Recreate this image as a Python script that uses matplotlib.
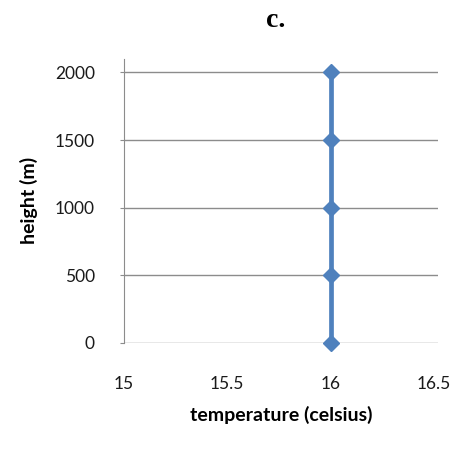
import matplotlib.pyplot as plt

temperature = [16, 16, 16, 16, 16]
height = [0, 500, 1000, 1500, 2000]
x_ticks = [15, 15.5, 16, 16.5]
y_ticks = [0, 500, 1000, 1500, 2000]

plt.rcParams['font.family'] = ['Lato', 'DejaVu Sans']

fig = plt.figure(figsize=(4.61, 4.5), dpi=100)
ax = fig.add_axes([0.269, 0.238, 0.681, 0.631])

grid_col = '#8c8c8c'
for y in y_ticks:
    ax.axhline(y, color=grid_col, lw=1.0, zorder=1)

ax.plot(temperature, height, color='#4f81bd', lw=3.4, marker='D',
        markersize=8, zorder=3, clip_on=False)

ax.set_xlim(15, 16.52)
ax.set_ylim(0, 2100)
ax.set_xticks(x_ticks)
ax.set_xticklabels(['15', '15.5', '16', '16.5'])
ax.set_yticks(y_ticks)

for side in ['top', 'right', 'bottom']:
    ax.spines[side].set_visible(False)
ax.spines['left'].set_color(grid_col)

ax.tick_params(axis='x', length=0, pad=24, labelsize=12.5, labelcolor='#1a1a1a')
ax.tick_params(axis='y', length=3, color=grid_col, pad=18, labelsize=12.5,
               labelcolor='#1a1a1a')

ax.set_xlabel('temperature (celsius)', fontweight='bold', fontsize=14,
              labelpad=10)
ax.set_ylabel('height (m)', fontweight='bold', fontsize=14, labelpad=12)

fig.text(0.597, 0.955, 'c.', family='Liberation Serif', fontweight='bold',
         fontsize=20, ha='center', va='center')

fig.savefig('out.png', dpi=100)
